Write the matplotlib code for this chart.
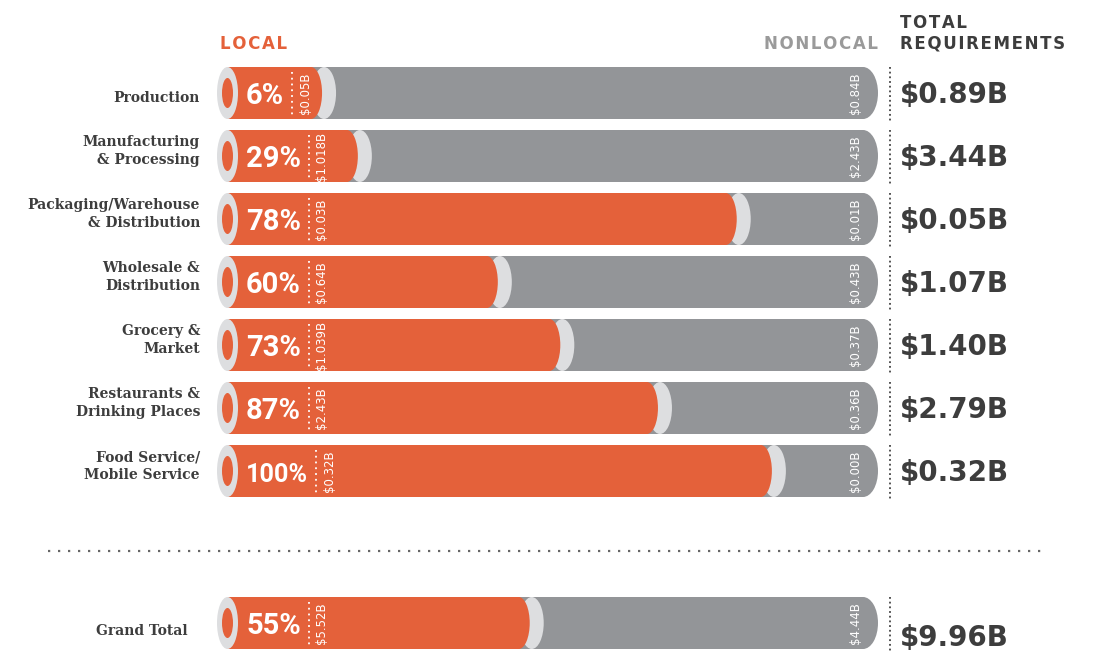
import numpy as np
import matplotlib.pyplot as plt
from matplotlib.patches import Rectangle, Ellipse

categories = [
    "Production",
    "Manufacturing\n& Processing",
    "Packaging/Warehouse\n& Distribution",
    "Wholesale &\nDistribution",
    "Grocery &\nMarket",
    "Restaurants &\nDrinking Places",
    "Food Service/\nMobile Service",
]
local_pct = [6, 29, 78, 60, 73, 87, 100]
local_val = ["$0.05B", "$1.018B", "$0.03B", "$0.64B", "$1.039B", "$2.43B", "$0.32B"]
nonlocal_val = ["$0.84B", "$2.43B", "$0.01B", "$0.43B", "$0.37B", "$0.36B", "$0.00B"]
total_req = ["$0.89B", "$3.44B", "$0.05B", "$1.07B", "$1.40B", "$2.79B", "$0.32B"]
# drawn length of the orange part as a share of the whole bar (as in the picture)
bar_fill = [0.146, 0.201, 0.783, 0.416, 0.512, 0.662, 0.837]

grand_label = "Grand Total"
grand_pct = 55
grand_local = "$5.52B"
grand_nonlocal = "$4.44B"
grand_total = "$9.96B"
grand_fill = 0.465

ORANGE = "#E4613A"
GRAY = "#939598"
LIGHT = "#DDDEE0"
DARK = "#3D3D3D"

W, H = 1104, 651
X0, X1 = 227, 878      # bar start / end (px)
Y0, STEP = 93, 63      # first row centre, row step (px)

fig = plt.figure(figsize=(W / 100, H / 100), dpi=100)
ax = fig.add_axes([0, 0, 1, 1])
ax.set_xlim(-X0 / (X1 - X0), (W - X0) / (X1 - X0))
ax.set_ylim((H - Y0) / STEP, -Y0 / STEP)
ax.axis("off")
renderer = fig.canvas.get_renderer()


def px(n):
    return n / (X1 - X0)


def py(n):
    return n / STEP


def dx(p):
    return (p - X0) / (X1 - X0)


def dy(p):
    return (p - Y0) / STEP


def spaced(s):
    return "\u200a".join(s)


def draw_row(y, fill, pct, lv, nv, tot, tot_shift=0):
    h = py(52)
    # nonlocal (gray) part with rounded right end
    ax.add_patch(Rectangle((0, y - h / 2), 1 - px(15), h, color=GRAY, lw=0))
    ax.add_patch(Ellipse((1 - px(15), y), 2 * px(15), h, color=GRAY, lw=0))
    # local (orange) part with light rim
    oc = fill - px(11)
    ax.add_patch(Ellipse((oc + px(13), y), 2 * px(12), h, color=LIGHT, lw=0))
    ax.add_patch(Rectangle((0, y - h / 2), oc, h, color=ORANGE, lw=0))
    ax.add_patch(Ellipse((oc, y), 2 * px(11), h, color=ORANGE, lw=0))
    # open end of the tube
    ax.add_patch(Ellipse((px(0.5), y), px(21), h, color=LIGHT, lw=0))
    ax.add_patch(Ellipse((px(0.5), y), px(11), py(30), color=ORANGE, lw=0))

    t = ax.text(dx(246), y + py(11), f"{pct}%", fontsize=21, fontweight="bold",
                family="Roboto", color="white", ha="left", va="baseline")
    ext = t.get_window_extent(renderer)
    if ext.width > 62:
        t.set_fontsize(21 * 62 / ext.width)
        ext = t.get_window_extent(renderer)
    x1 = ext.x1
    ax.plot([dx(x1 + 8)] * 2, [y - py(21), y + py(22)], color="white",
            lw=1.3, ls=(0, (1, 2.2)))
    ax.text(dx(x1 + 21), y, lv, rotation=90, fontsize=8.5, color="white",
            ha="center", va="center")
    ax.text(dx(855), y, nv, rotation=90, fontsize=8.5, color="white",
            ha="center", va="center")
    ax.plot([dx(890)] * 2, [y - h / 2, y + h / 2 + py(3)], color="#444444",
            lw=1.3, ls=(0, (1, 1.6)))
    ax.text(dx(900), y + py(10 + tot_shift), tot, fontsize=20, fontweight="bold",
            color=DARK, ha="left", va="baseline")


rows = np.arange(len(categories))
for i, y in enumerate(rows):
    draw_row(y, bar_fill[i], local_pct[i], local_val[i], nonlocal_val[i], total_req[i])
    off = py(-5) if "\n" in categories[i] else py(5)
    ax.text(dx(200), y + off, categories[i], ha="right", va="center", fontsize=10,
            fontweight="bold", family="DejaVu Serif", color=DARK, linespacing=1.35)

grand_y = dy(623)
draw_row(grand_y, grand_fill, grand_pct, grand_local, grand_nonlocal, grand_total, tot_shift=13)
ax.text(dx(188), grand_y + py(8), grand_label, ha="right", va="center", fontsize=10,
        fontweight="bold", family="DejaVu Serif", color=DARK)

# headers
ax.text(dx(220), dy(44), spaced("LOCAL"), color=ORANGE, fontsize=12, fontweight="bold",
        ha="left", va="center")
ax.text(dx(878), dy(44), spaced("NONLOCAL"), color="#9A9A9A", fontsize=12,
        fontweight="bold", ha="right", va="center")
ax.text(dx(900), dy(33), spaced("TOTAL") + "\n" + spaced("REQUIREMENTS"), color=DARK,
        fontsize=12, fontweight="bold", ha="left", va="center", linespacing=1.2)

# separator
ax.plot([dx(48), dx(1045)], [dy(551)] * 2, color="#666666", lw=1.6, ls=(0, (1, 3.5)))

fig.savefig("out.png", dpi=100)
